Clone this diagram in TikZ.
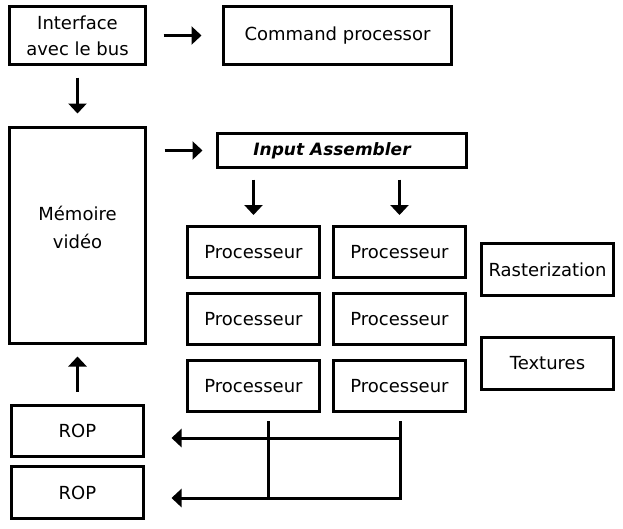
\documentclass[tikz,border=0pt]{standalone}
\usepackage{fontspec}
\setmainfont{DejaVu Sans}
\usetikzlibrary{arrows.meta}

\begin{document}
\begin{tikzpicture}[
		x=1pt, y=-1pt, line join=miter,
		>={Triangle[length=10pt,width=18pt]},
		every node/.style={font=\fontsize{18}{26}\selectfont},
		bloc/.style={draw, line width=3pt, inner sep=0pt, align=center},
		fleche/.style={->, line width=3pt},
		bus/.style={line width=3pt}
		]
		\useasboundingbox (0,0) rectangle (623,528);
		
		% 1. BLOCS DE GAUCHE
		\node[bloc, minimum width=136, minimum height=58] (iface) at (77.5,35.5) {Interface\\avec le bus};
		\node[bloc, minimum width=136, minimum height=216] (mem) at (77.5,235.5) {Mémoire\\[2pt]vidéo\\[-10pt]\mbox{}};
		\node[bloc, minimum width=132, minimum height=51] (rop1) at (77.5,431) {ROP};
		\node[bloc, minimum width=132, minimum height=52] (rop2) at (77.5,492.5) {ROP};
		
		% 2. BLOCS DU HAUT
		\node[bloc, minimum width=228, minimum height=58] (cmd) at (337.5,35.5) {Command processor};
		\node[bloc, minimum width=249, minimum height=34, font=\fontsize{17}{20}\selectfont\bfseries\itshape] (ia) at (342,150.5) {Input Assembler\hspace*{20pt}};
		
		% 3. PROCESSEURS
		\foreach \c/\x in {1/253.5, 2/399.5}
		\foreach \l/\y in {1/252, 2/319, 3/386}
		\node[bloc, minimum width=132, minimum height=51] (p\l\c) at (\x,\y) {Processeur};
		
		% 4. BLOCS DE DROITE
		\node[bloc, minimum width=132, minimum height=52] (rast) at (547.5,269.5) {Rasterization};
		\node[bloc, minimum width=132, minimum height=52] (tex) at (547.5,363.5) {Textures};
		
		% 5. FLECHES
		\draw[fleche, shorten <=16.5pt, shorten >=20.5pt] (iface) -- (cmd);
		\draw[fleche, shorten <=11.5pt, shorten >=12.5pt] (iface) -- (mem);
		\draw[fleche, shorten <=17.5pt, shorten >=13.5pt] (mem.east |- ia.west) -- (ia.west);
		\draw[fleche, shorten <=10.5pt, shorten >=10pt] (ia.south -| p11) -- (p11);
		\draw[fleche, shorten <=10.5pt, shorten >=10pt] (ia.south -| p12) -- (p12);
		\draw[fleche, shorten <=12.5pt, shorten >=11.5pt] (rop1) -- (mem);
		
		% 6. BUS VERS LES ROP
		\coordinate (bg) at (268,421);
		\coordinate (bd) at (400,421);
		\coordinate (bh) at (400,438);
		\coordinate (bb) at (400,498);
		\draw[bus] (bg) -- (bg |- bb);
		\draw[fleche, shorten >=26.5pt] (bd) -- (bb) -- (rop2.east |- bb);
		\draw[fleche, shorten >=26.5pt] (bh) -- (rop1.east |- bh);
		
	\end{tikzpicture}
\end{document}
